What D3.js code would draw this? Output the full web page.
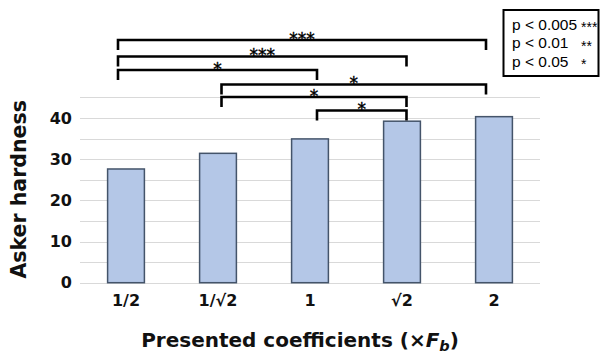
<!DOCTYPE html>
<html>
<head>
<meta charset="utf-8">
<script src="https://cdn.jsdelivr.net/npm/d3@7/dist/d3.min.js"></script>
<style>
  html, body { margin: 0; padding: 0; background: #fff; }
  svg { display: block; }
</style>
</head>
<body>
<svg id="chart" width="600" height="358"></svg>
<script>
// Presented coefficient levels and mean Asker hardness for each
const categories = ["1/2", "1/\u221A2", "1", "\u221A2", "2"];
const hardness = [27.6, 31.4, 34.9, 39.2, 40.3];
const yTicks = [0, 10, 20, 30, 40];
const yGrid = [0, 5, 10, 15, 20, 25, 30, 35, 40, 45];

// Significance brackets between pairs of levels
const pairFrom = ["1/2", "1/2", "1/2", "1/\u221A2", "1/\u221A2", "1"];
const pairTo = ["2", "\u221A2", "1", "2", "\u221A2", "\u221A2"];
const pairStars = ["***", "***", "*", "*", "*", "*"];

// Legend for the significance levels
const legendLabels = ["p < 0.005", "p < 0.01", "p < 0.05"];
const legendStars = ["***", "**", "*"];

const svg = d3.select("#chart");
const margin = { left: 80, right: 60, top: 97.3, bottom: 75.3 };
const W = 600, H = 358;

const x = d3.scaleBand()
  .domain(categories)
  .range([margin.left, W - margin.right])
  .paddingInner(0.6)
  .paddingOuter(0.3);

const y = d3.scaleLinear()
  .domain([0, 45])
  .range([H - margin.bottom, margin.top]);

const sans = "'DejaVu Sans', Verdana, sans-serif";
const arial = "'Liberation Sans', Arial, sans-serif";

// Horizontal gridlines
svg.append("g")
  .selectAll("line")
  .data(yGrid)
  .join("line")
  .attr("x1", margin.left)
  .attr("x2", W - margin.right)
  .attr("y1", d => Math.round(y(d)) + 0.5)
  .attr("y2", d => Math.round(y(d)) + 0.5)
  .attr("stroke", "#d9d9d9")
  .attr("stroke-width", 1);

// Bars
svg.append("g")
  .selectAll("rect")
  .data(categories)
  .join("rect")
  .attr("x", d => x(d))
  .attr("width", x.bandwidth())
  .attr("y", (d, i) => y(hardness[i]))
  .attr("height", (d, i) => y(0) - y(hardness[i]))
  .attr("fill", "#b4c7e7")
  .attr("stroke", "#44546a")
  .attr("stroke-width", 1.5);

// Y axis tick labels
const yAxis = svg.append("g")
  .attr("transform", `translate(${margin.left - 8},0)`)
  .call(d3.axisLeft(y).tickValues(yTicks).tickSize(0).tickPadding(0).tickFormat(d3.format("d")));
yAxis.select(".domain").remove();
yAxis.selectAll("text")
  .attr("font-family", sans)
  .attr("font-weight", "bold")
  .attr("font-size", 16)
  .attr("fill", "#111");

// X axis tick labels
const xAxis = svg.append("g")
  .attr("transform", `translate(0,${y(0) + 12})`)
  .call(d3.axisBottom(x).tickSize(0).tickPadding(0));
xAxis.select(".domain").remove();
xAxis.selectAll("text")
  .attr("font-family", sans)
  .attr("font-weight", "bold")
  .attr("font-size", 16)
  .attr("fill", "#111");

// Axis titles
svg.append("text")
  .attr("transform", `translate(26,${(y(0) + 96) / 2}) rotate(-90)`)
  .attr("text-anchor", "middle")
  .attr("font-family", sans)
  .attr("font-weight", "bold")
  .attr("font-size", 20.5)
  .attr("fill", "#111")
  .text("Asker hardness");

const xTitle = svg.append("text")
  .attr("x", 300)
  .attr("y", 347)
  .attr("text-anchor", "middle")
  .attr("font-family", sans)
  .attr("font-weight", "bold")
  .attr("font-size", 20)
  .attr("fill", "#111");
xTitle.append("tspan").text("Presented coefficients (\u00D7");
xTitle.append("tspan").attr("font-style", "italic").text("F");
xTitle.append("tspan").attr("font-style", "italic").attr("font-size", 14.5).attr("dy", 4).text("b");
xTitle.append("tspan").attr("dy", -4).text(")");

// Significance brackets: anchor points sit near each bar centre
const anchorShift = { "1/2": -8, "1/\u221A2": 3.5, "1": 7, "\u221A2": 4.5, "2": -8 };
const anchor = c => x(c) + x.bandwidth() / 2 + anchorShift[c];
const bracketTop = [40, 56.5, 70, 84.5, 97, 110.5];
const drop = 10;

const br = svg.append("g");
pairFrom.forEach((a, i) => {
  const x1 = anchor(a), x2 = anchor(pairTo[i]), yy = bracketTop[i];
  br.append("path")
    .attr("d", `M${x1},${yy + drop}V${yy}H${x2}V${yy + drop}`)
    .attr("fill", "none")
    .attr("stroke", "#000")
    .attr("stroke-width", 2.6);
  br.append("text")
    .attr("x", (x1 + x2) / 2)
    .attr("y", yy + 4.5)
    .attr("text-anchor", "middle")
    .attr("font-family", sans)
    .attr("font-size", 17)
    .attr("fill", "#000")
    .attr("stroke", "#000")
    .attr("stroke-width", 0.4)
    .text(pairStars[i]);
});

// Legend box
const lg = svg.append("g");
lg.append("rect")
  .attr("x", 503.5)
  .attr("y", 10)
  .attr("width", 95)
  .attr("height", 66)
  .attr("fill", "#fff")
  .attr("stroke", "#000")
  .attr("stroke-width", 2);
legendLabels.forEach((t, i) => {
  lg.append("text")
    .attr("x", 512)
    .attr("y", 29.5 + i * 18.5)
    .attr("font-family", arial)
    .attr("font-size", 15.5)
    .attr("fill", "#000")
    .text(t);
  lg.append("text")
    .attr("x", 581)
    .attr("y", 32 + i * 18.5)
    .attr("font-family", arial)
    .attr("font-size", 14)
    .attr("fill", "#000")
    .text(legendStars[i]);
});
</script>
</body>
</html>
